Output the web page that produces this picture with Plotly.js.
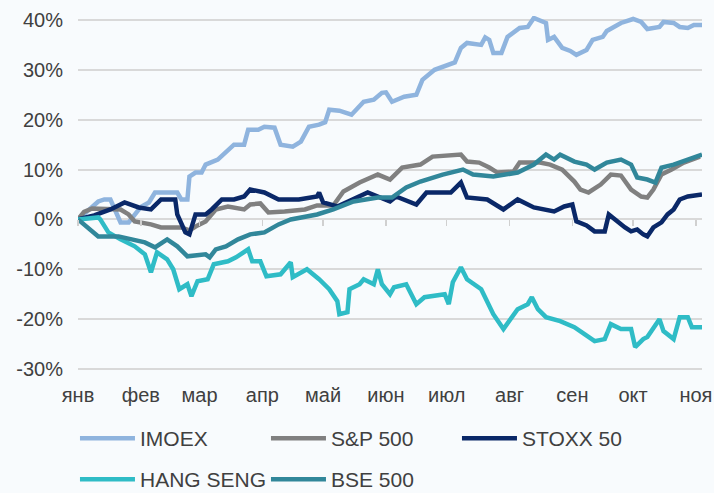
<!DOCTYPE html>
<html>
<head>
<meta charset="utf-8">
<script src="https://cdn.plot.ly/plotly-3.0.1.min.js"></script>
<style>
html,body{margin:0;padding:0;background:#f8fbfd;}
#chart{width:714px;height:493px;}
</style>
</head>
<body>
<div id="chart"></div>
<script>
// x values: days since 1 January; y values: % change since start of year
var monthDays = [0, 31, 60, 91, 121, 152, 182, 213, 244, 274, 305];
var monthLabels = ["янв", "фев", "мар", "апр", "май", "июн", "июл", "авг", "сен", "окт", "ноя"];
var yTickVals = [-30, -20, -10, 0, 10, 20, 30, 40];
var yTickText = ["-30%", "-20%", "-10%", "0%", "10%", "20%", "30%", "40%"];

var imoexDays = [0,10,13,16,21,25,31,35,38,49,51,54,55,58,61,63,69,73,77,82,84,89,92,97,100,106,110,114,119,122,124,129,132,135,141,146,150,152,155,161,167,170,176,182,186,189,192,199,201,203,205,209,212,218,222,225,228,231,232,235,239,243,246,251,254,259,261,268,274,278,281,287,289,294,297,301,304,308];
var imoexVals = [0,3.6,4,4,-0.6,-0.6,2.5,3.4,5.4,5.4,4,4,8.6,9.4,9.4,11,12,13.4,15,15,18,18,18.6,18.4,15,14.6,15.6,18.6,19,19.5,22,21.8,21.4,21,23.6,24,25.4,25.5,23.6,24.6,25,28,30,31,31.5,34.4,35.4,35,36.5,36,33.4,33.4,36.6,38.4,38.6,40.4,39.8,39.4,36,36.6,34.4,33.8,33,34,36,36.6,37.8,39.4,40.2,39.6,38.2,38.6,39.6,39.4,38.6,38.4,39,39];

var spDays = [0,3,7,16,21,25,28,36,41,51,55,59,63,68,74,82,85,90,94,102,112,118,126,131,139,148,154,160,169,175,189,192,198,203,207,215,218,228,233,239,245,248,252,258,263,268,273,278,281,284,288,293,299,307];
var spVals = [0,1.5,2.2,2,2,1,-0.4,-1,-1.6,-1.6,-2.2,-1.2,-0.4,2,2.6,2,3,3.2,1.4,1.6,2,2.8,2.8,5.6,7.4,9,8,10.4,11,12.6,13,11.6,11.4,10.4,9.4,9.6,11.4,11.4,11,10,7.6,6,5.4,7,9,8.8,6,4.6,4.4,6,9,10,11.4,12.6];

var stoxxDays = [0,8,16,23,30,36,41,48,49,53,55,58,63,66,71,77,82,85,92,99,109,118,119,121,128,133,143,154,157,167,172,184,189,192,202,210,217,225,235,240,244,246,251,255,260,262,266,270,273,276,279,281,284,288,291,294,297,301,308];
var stoxxVals = [0,0.8,2,3.4,2.4,2,4,4,1,-2.6,-3,1,1,2,4,4,4.6,6,5.4,4,4,4.6,5.4,3.4,2.6,3.6,5.4,3.6,4.6,3,5.4,5.4,7.4,4.4,4,2,4,2.4,1.6,2.6,3,-0.4,-1.2,-2.4,-2.4,1,-0.4,-1.6,-2.4,-2,-3,-3.4,-1.6,-0.6,1,2,4,4.6,5];

var hsDays = [0,10,11,15,21,28,33,36,39,44,47,50,54,56,59,64,67,74,78,84,86,90,93,100,105,106,113,119,124,128,129,133,134,139,141,146,148,150,154,156,162,167,171,181,183,185,189,192,199,205,210,217,222,224,227,231,238,245,250,255,260,263,268,273,275,279,281,287,289,294,297,301,303,308];
var hsVals = [0,0.4,0,-2.6,-4,-5.4,-7,-10.6,-6.6,-8,-10,-14,-13,-15.4,-12.4,-12,-9,-8.4,-7.6,-6,-8.4,-8.4,-11.4,-11,-8.6,-11.6,-10,-12,-14,-16.4,-19,-18.6,-14,-13,-12,-13,-10,-13,-15,-13.6,-13,-17,-15.6,-15,-17,-12.6,-9.6,-12,-14,-19,-22,-18,-17,-15.6,-18,-19.6,-20.4,-21.6,-23,-24.4,-24,-21,-22,-22,-25.6,-24,-23.6,-20,-22.4,-24,-19.6,-19.6,-21.6,-21.6];

var bseDays = [0,5,10,20,26,33,38,44,49,54,63,65,68,73,79,85,92,99,105,112,118,126,136,148,155,162,169,180,190,195,205,217,225,231,235,238,245,251,255,261,268,273,276,281,285,288,294,301,308];
var bseVals = [0,-1.6,-3.4,-3.4,-4,-4.6,-5.6,-4,-5.4,-7.4,-7,-7.6,-6,-5.4,-4,-3,-2.6,-1,0,0.6,1,2,3.6,4.4,4.4,6.4,7.6,9,10,9,8.6,9.4,11,13,12,13,11.6,11,10,11.4,12,11,8.4,8,7.4,10.4,11,12,13];

var names = ["IMOEX", "S&P 500", "STOXX 50", "HANG SENG", "BSE 500"];
var colors = ["#8fb4de", "#808080", "#0a2868", "#2fbcc6", "#31879a"];
var legendIds = ["legend", "legend", "legend", "legend2", "legend2"];
var xs = [imoexDays, spDays, stoxxDays, hsDays, bseDays];
var ys = [imoexVals, spVals, stoxxVals, hsVals, bseVals];

var traces = names.map(function (n, i) {
  return {
    type: "scatter", mode: "lines", name: n,
    x: xs[i], y: ys[i], legend: legendIds[i],
    line: {color: colors[i], width: 4.5},
    hoverinfo: "skip"
  };
});

var font = {family: "Liberation Sans, Arial, sans-serif", size: 20, color: "#404040"};
var legFont = {family: "Liberation Sans, Arial, sans-serif", size: 21, color: "#404040"};
var yMin = -30.6, yMax = 40.8;

function legendSpec(yTop) {
  return {
    orientation: "h", xref: "container", x: 0.105, xanchor: "left",
    yref: "container", y: yTop, yanchor: "top",
    entrywidth: 121, entrywidthmode: "pixels",
    font: legFont, bgcolor: "rgba(0,0,0,0)", itemwidth: 55, traceorder: "normal"
  };
}

var layout = {
  width: 714, height: 493,
  margin: {l: 78, r: 12, t: 16, b: 121, autoexpand: false},
  paper_bgcolor: "#f8fbfd", plot_bgcolor: "#f8fbfd",
  font: font,
  showlegend: true,
  xaxis: {
    range: [0, 308], tickmode: "array", tickvals: monthDays, ticktext: monthLabels,
    showgrid: false, zeroline: false, showline: false, ticks: "",
    ticklabelstandoff: 9, tickfont: font, fixedrange: true
  },
  xaxis2: {
    overlaying: "x", matches: "x", anchor: "free",
    position: (0 - yMin) / (yMax - yMin),
    tickmode: "array", tickvals: monthDays, showticklabels: false,
    ticks: "outside", ticklen: 6, tickwidth: 1.5, tickcolor: "#d0d0d0",
    showgrid: false, zeroline: false, showline: false
  },
  yaxis: {
    range: [yMin, yMax], tickmode: "array", tickvals: yTickVals, ticktext: yTickText,
    showgrid: true, gridcolor: "#d9d9d9", gridwidth: 2,
    zeroline: false, showline: false, ticks: "",
    ticklabelstandoff: 14, tickfont: font, fixedrange: true
  },
  legend: legendSpec(0.152),
  legend2: legendSpec(0.069)
};

// invisible helper trace hosting the tick marks along the 0% line
traces.push({type: "scatter", mode: "lines", x: [0, 308], y: [0, 0], xaxis: "x2",
  line: {width: 0}, showlegend: false, hoverinfo: "skip"});

Plotly.newPlot("chart", traces, layout, {staticPlot: true, displayModeBar: false});
</script>
</body>
</html>
